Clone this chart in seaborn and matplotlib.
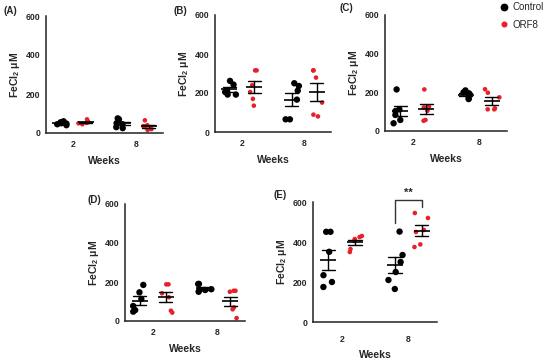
import numpy as np
import pandas as pd
import matplotlib
matplotlib.use("Agg")
import matplotlib.pyplot as plt
from matplotlib.lines import Line2D
import seaborn as sns

weeks = ["2", "8"]
groups = ["Control", "ORF8"]
panel_names = ["(A)", "(B)", "(C)", "(D)", "(E)"]
yticks = [0, 200, 400, 600]

# FeCl2 uM per animal
a_ctrl_2 = [50, 60, 45, 55, 40, 48]
a_orf8_2 = [60, 45, 55, 70, 50, 52]
a_ctrl_8 = [75, 70, 50, 45, 30, 25]
a_orf8_8 = [65, 40, 30, 20, 15, 35]

b_ctrl_2 = [262, 243, 214, 205, 192, 192]
b_orf8_2 = [316, 316, 240, 205, 170, 135]
b_ctrl_8 = [236, 250, 212, 166, 65, 65]
b_orf8_8 = [316, 316, 279, 151, 80, 89]

c_ctrl_2 = [215, 112, 103, 83, 57, 40]
c_orf8_2 = [215, 126, 122, 105, 53, 57]
c_ctrl_8 = [210, 200, 195, 190, 170, 165]
c_orf8_8 = [216, 198, 174, 112, 117, 112]

d_ctrl_2 = [185, 147, 113, 77, 48, 56]
d_orf8_2 = [188, 188, 122, 142, 43, 53]
d_ctrl_8 = [190, 190, 150, 159, 159, 163]
d_orf8_8 = [155, 150, 155, 70, 60, 15]

e_ctrl_2 = [451, 451, 351, 234, 175, 200]
e_orf8_2 = [430, 425, 415, 405, 365, 350]
e_ctrl_8 = [452, 335, 300, 250, 210, 165]
e_orf8_8 = [545, 520, 460, 450, 388, 375]

panel_data = [
    (a_ctrl_2, a_orf8_2, a_ctrl_8, a_orf8_8),
    (b_ctrl_2, b_orf8_2, b_ctrl_8, b_orf8_8),
    (c_ctrl_2, c_orf8_2, c_ctrl_8, c_orf8_8),
    (d_ctrl_2, d_orf8_2, d_ctrl_8, d_orf8_8),
    (e_ctrl_2, e_orf8_2, e_ctrl_8, e_orf8_8),
]

RED = "#e8202a"
dot_color = {"Control": "black", "ORF8": RED}
dot_size = {"Control": 4.6, "ORF8": 3.3}

sns.set_style("white")
plt.rcParams["font.family"] = ["Liberation Sans", "DejaVu Sans"]
plt.rcParams["font.weight"] = "bold"
plt.rcParams["axes.labelweight"] = "bold"
plt.rcParams["mathtext.fontset"] = "custom"
plt.rcParams["mathtext.rm"] = "Liberation Sans:bold"
plt.rcParams["mathtext.default"] = "rm"

np.random.seed(3)  # jitter only

W, H = 550, 361
fig = plt.figure(figsize=(5.5, 3.61), dpi=100)

# axes boxes in pixels: left, top, right, bottom
boxes = [(46, 16, 163, 133), (215, 15, 331, 132), (385, 15, 507, 131),
         (125, 204, 245, 321), (313, 202, 437, 322)]
label_pos = [(3, 10.5), (173, 11.5), (340, 8), (88, 200), (274, 194.5)]
xtick_pad = [2.5, 2.5, 2.5, 2.5, 6.5]

for i, (box, vals) in enumerate(zip(boxes, panel_data)):
    l, t, r, b = box
    ax = fig.add_axes([l / W, 1 - b / H, (r - l) / W, (b - t) / H])
    rows = []
    for (g, w), v in zip([("Control", "2"), ("ORF8", "2"), ("Control", "8"), ("ORF8", "8")], vals):
        for x in v:
            rows.append({"Weeks": w, "Group": g, "FeCl2": x})
    df = pd.DataFrame(rows)

    for g in groups:
        sns.stripplot(data=df[df["Group"] == g], x="Weeks", y="FeCl2", hue="Group",
                      hue_order=groups, order=weeks, dodge=True, palette=dot_color,
                      jitter=0.24, size=dot_size[g], linewidth=0, legend=False,
                      ax=ax, zorder=2)

    sns.pointplot(data=df, x="Weeks", y="FeCl2", hue="Group", hue_order=groups,
                  order=weeks, dodge=0.4, errorbar="se", palette={"Control": "black", "ORF8": "black"},
                  marker="_", markersize=11, markeredgewidth=1.2, linestyle="none",
                  capsize=0.2, err_kws={"linewidth": 1.0}, legend=False, ax=ax)

    ax.set_ylim(0, 600)
    ax.set_yticks(yticks)
    ax.set_xlim(-0.43, 1.43)
    ax.set_xlabel("Weeks", fontsize=7.5, labelpad=5)
    ax.set_ylabel(r"FeCl$_2$ μM", fontsize=7.5, labelpad=3)
    sns.despine(ax=ax)
    for s in ["left", "bottom"]:
        ax.spines[s].set_linewidth(1.1)
        ax.spines[s].set_color("#222222")
    ax.tick_params(axis="y", length=2.5, width=1, pad=1.5, labelsize=6.2)
    ax.tick_params(axis="x", length=2.5, width=1, pad=xtick_pad[i], labelsize=6.2)
    fig.text(label_pos[i][0] / W, 1 - label_pos[i][1] / H, panel_names[i],
             fontsize=7, fontweight="bold", va="center", ha="left")

    if i == 4:
        lo = max(e_ctrl_8) + 45
        ro = max(e_orf8_8) + 30
        top = 612
        ax.plot([0.8, 0.8, 1.2, 1.2], [lo, top, top, ro], color="#333333",
                linewidth=1.0, clip_on=False)
        ax.text(1.0, top + 10, "**", ha="center", va="bottom", fontsize=8,
                fontweight="bold", clip_on=False)

handles = [Line2D([], [], marker="o", linestyle="none", color="black", markersize=4.6),
           Line2D([], [], marker="o", linestyle="none", color=RED, markersize=3.3)]
fig.legend(handles, groups, loc="upper left", bbox_to_anchor=(492 / W, 1.012),
           frameon=False, prop={"size": 7, "weight": "normal"}, handlelength=1,
           handletextpad=0.4, labelspacing=0.75, borderpad=0.2)

fig.savefig("out.png", dpi=100)
